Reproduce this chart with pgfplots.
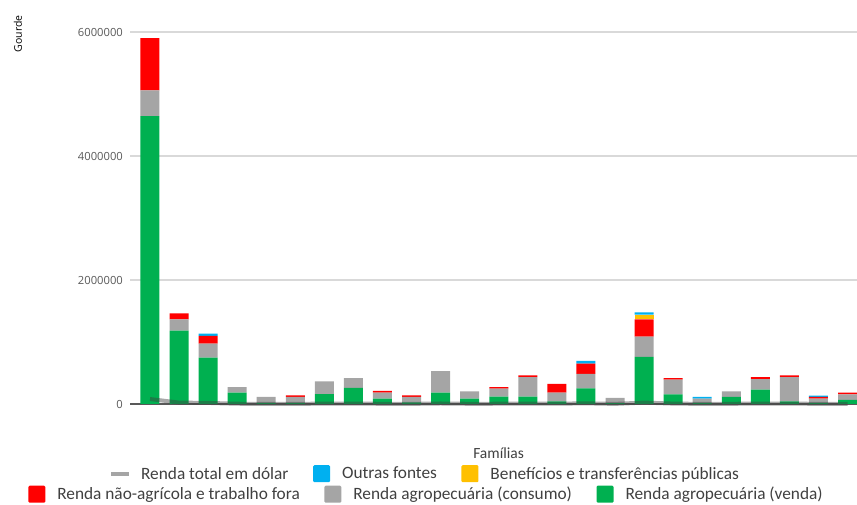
\documentclass[border=0pt]{standalone}
\usepackage{pgfplots}
\pgfplotsset{compat=1.18}
\usepackage{pgfplotstable}
\usepackage{fontspec}
\setmainfont{Carlito}
\newfontfamily\tickfont{Open Sans}
\definecolor{cgreen}{HTML}{00B050}
\definecolor{cgray}{HTML}{A5A5A5}
\definecolor{cred}{HTML}{FF0000}
\definecolor{cyellow}{HTML}{FFC000}
\definecolor{cblue}{HTML}{00B0F0}
\definecolor{cgrid}{HTML}{D9D9D9}
\definecolor{caxis}{HTML}{595959}
\definecolor{ctick}{HTML}{595959}
\definecolor{ctext}{HTML}{404040}
\definecolor{cline}{HTML}{404040}

\pgfplotstableread{
x venda consumo nagr benef outras dolar
0 4645000 415000 840000 0 0 80000
1 1183000 183000 97000 0 0 22500
2 747000 226000 124000 0 37000 17400
3 185000 89000 0 0 0 4200
4 20000 93000 0 0 0 1700
5 20000 93000 27000 0 0 2150
6 161000 205000 0 0 0 5600
7 258000 161000 0 0 0 6450
8 86000 97000 27000 0 0 3230
9 25000 88000 27000 0 0 2150
10 183000 349000 0 0 0 8200
11 86000 118000 0 0 0 3140
12 118000 129000 27000 0 0 4200
13 118000 317000 27000 0 0 7100
14 43000 140000 140000 0 0 4970
15 253000 231000 166000 0 44000 10700
16 15000 82000 0 0 0 1500
17 758000 328000 280000 74000 39000 22750
18 156000 236000 27000 0 0 6450
19 20000 66000 0 0 27000 1740
20 113000 91000 0 0 0 3140
21 231000 172000 32000 0 0 6700
22 43000 392000 27000 0 0 7100
23 20000 66000 27000 0 21000 2060
24 65000 91000 27000 0 0 2800
}\data

\pgfplotsset{
  lbox/.style={legend image code/.code={\fill[##1,rounded corners=1.2pt] (0pt,-8.5pt) rectangle (17pt,8.5pt);}},
  ldash/.style={legend image code/.code={\fill[##1] (0pt,-2.2pt) rectangle (18pt,2.2pt);}},
  mylegend/.style={legend style={draw=none, fill=none, inner sep=0pt,
      font=\fontsize{17.3}{20}\selectfont, text=ctext,
      legend columns=3, legend cell align=left,
      /tikz/every odd column/.append style={column sep=12pt},
      /tikz/every even column/.append style={column sep=24.5pt},
      nodes={inner sep=0pt}}},
}

\begin{document}
\begin{tikzpicture}[x=1pt,y=1pt]
\useasboundingbox (0,0) rectangle (857,505);
\begin{axis}[
  at={(130pt,101pt)}, anchor=south west, scale only axis,
  width=727pt, height=372pt,
  xmin=-0.688, xmax=24.327, ymin=0, ymax=6000000,
  ybar stacked, bar width=19pt,
  axis x line*=bottom, axis y line*=left,
  x axis line style={draw=caxis, line width=1.5pt, -},
  y axis line style={draw=none},
  xtick=\empty,
  ytick={0,2000000,4000000,6000000},
  yticklabels={0,2000000,4000000,6000000},
  scaled y ticks=false,
  major tick length=0pt,
  ymajorgrids, grid style={draw=cgrid, line width=1.2pt},
  yticklabel style={font=\tickfont\fontsize{11.2}{13}\selectfont, text=ctick, inner sep=0pt, anchor=east, xshift=-7pt},
  ylabel={Gourde},
  ylabel style={at={(axis description cs:-0.154,0.995)}, anchor=center, font=\tickfont\fontsize{10.5}{12}\selectfont, text=black},
  xlabel={Famílias},
  xlabel style={at={(axis description cs:0.507,-0.1317)}, anchor=center, font=\fontsize{15.5}{18}\selectfont, text=ctext},
  mylegend,
  legend style={at={(0.4058,-0.1875)}, anchor=center},
]
\addplot[fill=cgreen, draw=none, forget plot] table[x=x,y=venda]{\data};
\addplot[fill=cgray, draw=none, forget plot] table[x=x,y=consumo]{\data};
\addplot[fill=cred, draw=none, forget plot] table[x=x,y=nagr]{\data};
\addplot[fill=cyellow, draw=none, forget plot] table[x=x,y=benef]{\data};
\addplot[fill=cblue, draw=none, forget plot] table[x=x,y=outras]{\data};
\addlegendimage{ldash, fill=cgray, draw=none}
\addlegendentry{Renda total em dólar}
\addlegendimage{lbox, fill=cblue, draw=none}
\addlegendentry{Outras fontes}
\addlegendimage{lbox, fill=cyellow, draw=none}
\addlegendentry{Benefícios e transferências públicas}
\end{axis}
\begin{axis}[
  at={(130pt,101pt)}, anchor=south west, scale only axis,
  width=727pt, height=372pt,
  xmin=-0.688, xmax=24.327, ymin=0, ymax=6000000,
  hide axis, clip=false,
  mylegend,
  legend style={at={(0.4065,-0.2425)}, anchor=center},
]
\addplot[forget plot, sharp plot, no markers, line width=4pt, color=cline, opacity=0.45] table[x=x,y=dolar]{\data};
\addlegendimage{lbox, fill=cred, draw=none}
\addlegendentry{Renda não-agrícola e trabalho fora}
\addlegendimage{lbox, fill=cgray, draw=none}
\addlegendentry{Renda agropecuária (consumo)}
\addlegendimage{lbox, fill=cgreen, draw=none}
\addlegendentry{Renda agropecuária (venda)}
\end{axis}
\end{tikzpicture}
\end{document}
